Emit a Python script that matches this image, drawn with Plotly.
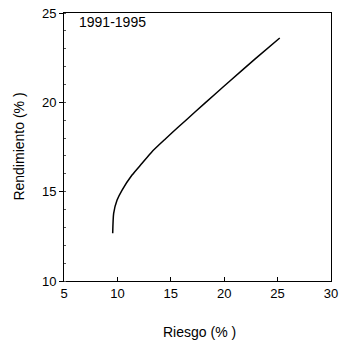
import plotly.graph_objects as go

riesgo = [9.56, 9.65, 9.97, 10.44, 11.37, 12.31, 13.24, 14.49, 15.73, 17.29, 19.16, 20.56, 22.9, 25.2]
rendimiento = [12.67, 13.79, 14.53, 15.09, 15.93, 16.59, 17.24, 17.95, 18.63, 19.47, 20.47, 21.21, 22.43, 23.6]
x_ticks = [5, 10, 15, 20, 25, 30]
y_ticks = [10, 15, 20, 25]
periodo = "1991-1995"

fig = go.Figure()
fig.add_trace(go.Scatter(x=riesgo, y=rendimiento, mode="lines",
                         line=dict(color="black", width=1.5, shape="spline", smoothing=0.6),
                         showlegend=False))

font = dict(family="Liberation Sans, Arial, sans-serif", size=13, color="black")

fig.update_layout(
    width=341, height=350,
    margin=dict(l=63.5, r=10, t=13, b=69),
    paper_bgcolor="white", plot_bgcolor="white",
    font=font,
    xaxis=dict(range=[5, 30], tickvals=x_ticks, showgrid=False, zeroline=False,
               automargin=False,
               showline=True, linecolor="black", linewidth=1, mirror=True,
               ticks="inside", ticklen=4, tickcolor="black",
               tickfont=dict(size=13)),
    yaxis=dict(range=[10, 25], tickvals=y_ticks, showgrid=False, zeroline=False,
               automargin=False,
               showline=True, linecolor="black", linewidth=1, mirror=True,
               ticks="outside", ticklen=4, tickcolor="black",
               minor=dict(dtick=1, ticks="inside", ticklen=2, tickcolor="#555"),
               tickfont=dict(size=13)),
    annotations=[
        dict(text=periodo, xref="paper", yref="paper", x=0.05, y=0.966,
             xanchor="left", yanchor="middle", showarrow=False,
             font=dict(size=14)),
        dict(text="Riesgo (% )", xref="paper", yref="paper", x=0.507, y=-0.19,
             xanchor="center", yanchor="middle", showarrow=False,
             font=dict(size=14)),
        dict(text="Rendimiento (% )", xref="paper", yref="paper", x=-0.17, y=0.5,
             xanchor="center", yanchor="middle", showarrow=False, textangle=-90,
             font=dict(size=14)),
    ],
)

fig.write_html("out.html")
